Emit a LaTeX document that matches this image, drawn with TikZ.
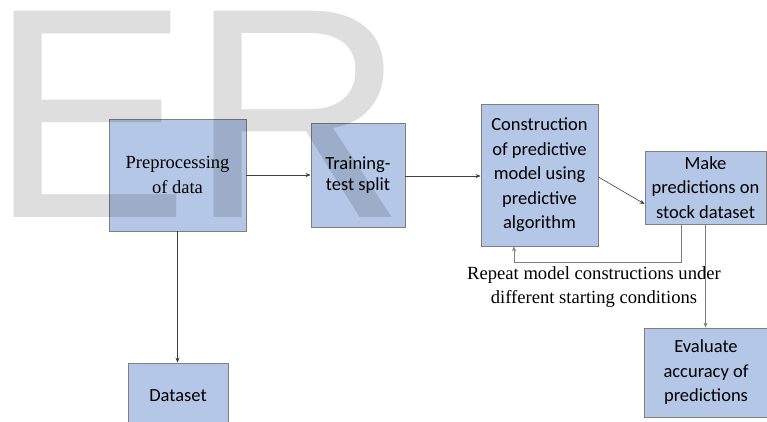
\documentclass[tikz,border=0pt]{standalone}
\usepackage{fontspec}
\setmainfont{Liberation Serif}
\newfontfamily\boxfont{Carlito}
\newfontfamily\wmfont{Liberation Sans}
\usetikzlibrary{arrows.meta,calc}
\definecolor{boxfill}{HTML}{B4C7E7}
\definecolor{boxline}{HTML}{7F7F7F}
\definecolor{arr}{HTML}{404040}
\tikzset{
  blockbox/.style={draw=boxline, fill=boxfill, line width=0.8pt, align=center,
    inner sep=0pt, font=\boxfont\fontsize{18.5}{24.5}\selectfont},
  conn/.style={draw=arr, line width=0.6pt, -{Stealth[length=5pt,width=4pt]}},
  lightconn/.style={conn, draw=boxline},
}
\begin{document}
\begin{tikzpicture}[x=1pt,y=-1pt]
\clip (0,0) rectangle (767,421);
\fill[white] (0,0) rectangle (767,421);
\node[blockbox, minimum width=137pt, minimum height=112pt, font=\rmfamily\fontsize{18.5}{25}\selectfont] (pre) at (177.5,175) {Preprocessing\\of data};
\node[blockbox, minimum width=94pt, minimum height=104pt, font=\boxfont\fontsize{18.5}{21.5}\selectfont] (train) at (358,175) {Training-\\test split};
\node[blockbox, minimum width=117pt, minimum height=142pt] (cons) at (539.5,175) {Construction\\of predictive\\model using\\predictive\\algorithm};
\node[blockbox, minimum width=121pt, minimum height=73pt] (make) at (705.5,187.5) {Make\\predictions on\\stock dataset};
\node[blockbox, minimum width=123pt, minimum height=89pt] (eval) at (706,372.5) {Evaluate\\accuracy of\\predictions};
\node[blockbox, minimum width=100pt, minimum height=66pt] (data) at (178,396) {Dataset};
\node[align=center, font=\fontsize{18.6}{24}\selectfont, inner sep=0pt] (lbl) at (594,287) {Repeat model constructions under\\different starting conditions};
\draw[conn] (pre.east) -- (pre.east -| train.west);
\draw[conn] ([yshift=-1pt]train.east) -- ([yshift=-1pt]cons.west);
\draw[conn] ([yshift=-2pt]cons.east) -- ([yshift=-16.5pt]make.west);
\coordinate (fb1) at ($(make.south)+(-24.5,0)$);
\coordinate (fb2) at ($(cons.south)+(-25.5,0)$);
\draw[lightconn] (fb1) -- ($(fb1)+(0,38)$) -| (fb2);
\draw[lightconn] (make.south) -- (make.south |- eval.north);
\draw[conn] (pre.south) -- (pre.south |- data.north);
\node[anchor=base west, inner sep=0pt, text=black, text opacity=0.13, font=\wmfont\fontsize{300}{300}\selectfont] (wm) at (-11,217) {ER};
\end{tikzpicture}
\end{document}
